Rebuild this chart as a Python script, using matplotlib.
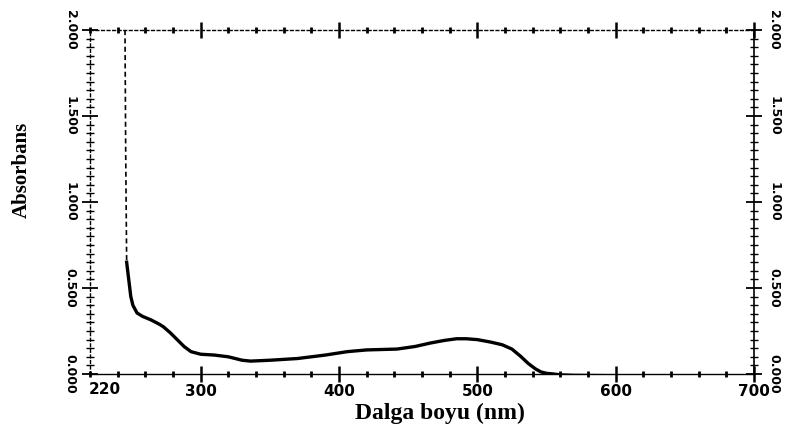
import matplotlib
matplotlib.use("Agg")
import matplotlib.pyplot as plt
import numpy as np
from matplotlib.ticker import MultipleLocator, FixedLocator

# dalga boyu (nm) ve absorbans değerleri
wl_steep = [245.3, 245.8, 246.5]
abs_steep = [2.0, 1.30, 0.65]

wl = [246.5, 248, 249.5, 251, 254, 258, 264, 270, 273, 278, 283, 288, 293, 300,
      310, 320, 330, 336, 350, 370, 390, 406, 420, 442, 455, 466, 476, 485,
      492, 500, 510, 518, 525, 531, 537, 542, 546, 550, 555, 560, 570, 600,
      650, 700]
absorb = [0.65, 0.55, 0.45, 0.40, 0.355, 0.335, 0.315, 0.29, 0.275, 0.24, 0.20, 0.16,
          0.13, 0.115, 0.11, 0.10, 0.08, 0.075, 0.08, 0.09, 0.11, 0.13, 0.14, 0.145,
          0.16, 0.18, 0.195, 0.205, 0.205, 0.2, 0.185, 0.17, 0.145, 0.105, 0.06,
          0.03, 0.012, 0.004, 0.0, -0.005, -0.008, -0.01, -0.012, -0.012]

x_major = [300, 400, 500, 600, 700]
x_labels = ['300', '400', '500', '600', '700']
y_major = [0.0, 0.5, 1.0, 1.5, 2.0]
y_labels = ['0.000', '0.500', '1.000', '1.500', '2.000']

fig = plt.figure(figsize=(7.95, 4.36), dpi=100)
ax = fig.add_axes([0.1132, 0.1422, 0.8352, 0.7888])

ax.plot(wl_steep, abs_steep, color='black', linewidth=1.2, linestyle=(0, (3, 2)))
ax.plot(wl, absorb, color='black', linewidth=2.4)

ax.set_xlim(220, 700)
ax.set_ylim(0, 2.0)

ax.xaxis.set_major_locator(FixedLocator(x_major))
ax.xaxis.set_minor_locator(MultipleLocator(20))
ax.yaxis.set_major_locator(FixedLocator(y_major))
ax.yaxis.set_minor_locator(MultipleLocator(0.05))
ax.set_xticklabels(x_labels)
ax.set_yticklabels(y_labels)

ax.tick_params(axis='x', which='major', direction='inout', length=11, width=1.8,
               top=True, labeltop=False, labelsize=11, pad=2)
ax.tick_params(axis='x', which='minor', direction='inout', length=4, width=2.0, top=True)
ax.tick_params(axis='y', which='major', direction='inout', length=11, width=1.3,
               right=True, labelright=True, labelsize=9, pad=4)
ax.tick_params(axis='y', which='minor', direction='inout', length=6, width=1.0, right=True)

for lab in ax.get_xticklabels():
    lab.set_fontweight('bold')
for lab in ax.get_yticklabels():
    lab.set_fontweight('bold')
    lab.set_rotation(-90)
    lab.set_va('center')

# sol alttaki 220 etiketi
ax.text(231, -0.045, '220', ha='center', va='top', fontsize=11, fontweight='bold')

ax.spines['top'].set_linestyle((0, (2, 2)))
ax.spines['top'].set_linewidth(1.0)
ax.spines['bottom'].set_linewidth(1.0)
ax.spines['left'].set_linewidth(1.0)
ax.spines['left'].set_linestyle((0, (2, 2)))
ax.spines['right'].set_linewidth(1.2)

ax.set_xlabel('Dalga boyu (nm)', fontsize=17, fontweight='bold', family='Liberation Serif')
ax.xaxis.label.set_va('center')
ax.xaxis.set_label_coords(0.527, -0.116)
fig.text(0.028, 0.61, 'Absorbans', rotation=90, fontsize=15, fontweight='bold',
         family='Liberation Serif', ha='center', va='center')

fig.savefig('out.png', dpi=100)
